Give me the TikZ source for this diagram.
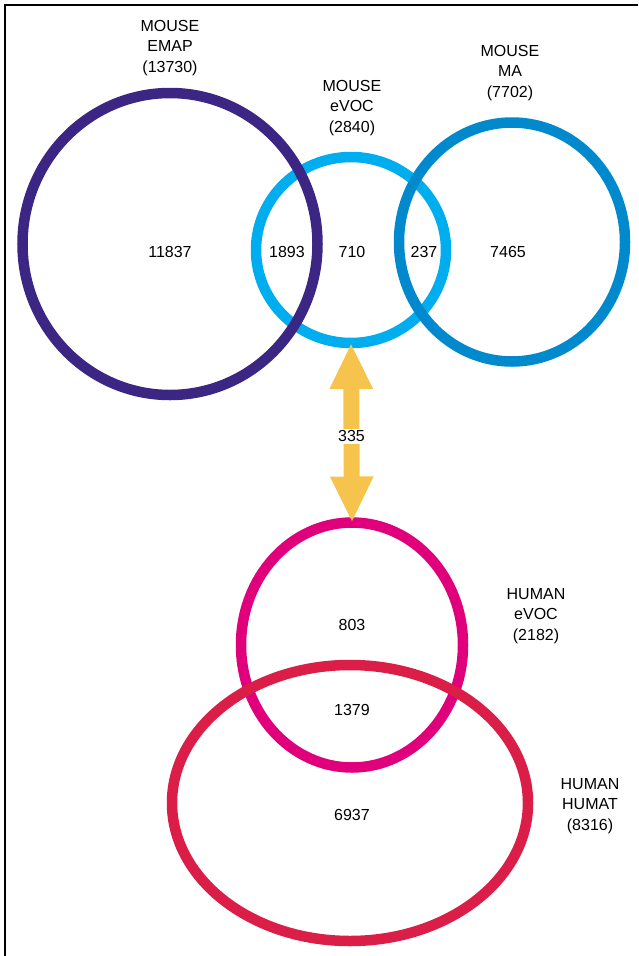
\documentclass[tikz,border=0pt]{standalone}
\usepackage{fontspec}
\setmainfont{Liberation Sans}
\usepackage{tikz}
\usetikzlibrary{positioning,shapes,arrows.meta}

\definecolor{emapcol}{RGB}{60,38,131}
\definecolor{mevoccol}{RGB}{0,174,239}
\definecolor{macol}{RGB}{0,137,204}
\definecolor{hevoccol}{RGB}{224,0,124}
\definecolor{humatcol}{RGB}{218,30,72}
\definecolor{arrowcol}{RGB}{246,196,76}

\begin{document}
\begin{tikzpicture}[
            x=1pt, y=-1pt,
            ring/.style={ellipse, line width=10.5pt, outer sep=0pt, inner sep=0pt},
            lbl/.style={align=center, font=\fontsize{16}{20.5}\selectfont},
            num/.style={font=\fontsize{16}{20.5}\selectfont, inner sep=1pt}
        ]
        \useasboundingbox (0,0) rectangle (639,956);

        %frame
        \draw[line width=1.3pt] (638,5) -- (5,5) -- (5,956);

        %mouse circles
        \node[ring, draw=mevoccol, minimum width=190pt, minimum height=186pt] (mevoc) at (351,250) {};
        \node[ring, draw=emapcol,  minimum width=295pt, minimum height=302pt] (emap)  at (170,244) {};
        \node[ring, draw=macol,    minimum width=226pt, minimum height=239pt] (ma)    at (512,242) {};

        %human circles
        \node[ring, draw=hevoccol, minimum width=222pt, minimum height=245pt] (hevoc) at (352,645) {};
        \node[ring, draw=humatcol, minimum width=356pt, minimum height=276pt] (humat) at (350,803) {};

        %set labels
        \node[lbl] (emaplbl)  at (170,48)  {MOUSE\\EMAP\\(13730)};
        \node[lbl] (mevoclbl) at (352,108) {MOUSE\\eVOC\\(2840)};
        \node[lbl] (malbl)    at (510,73)  {MOUSE\\MA\\(7702)};
        \node[lbl] (hevoclbl) at (536,616) {HUMAN\\eVOC\\(2182)};
        \node[lbl] (humatlbl) at (590,806) {HUMAN\\HUMAT\\(8316)};

        %counts
        \node[num] (n11837) at (170,252) {11837};
        \node[num] (n1893)  at (287,252) {1893};
        \node[num] (n710)   at (352,252) {710};
        \node[num] (n237)   at (424,252) {237};
        \node[num] (n7465)  at (508,252) {7465};
        \node[num] (n803)   at (352,625) {803};
        \node[num] (n1379)  at (352,710) {1379};
        \node[num] (n6937)  at (352,815) {6937};

        %mapping arrow
        \draw[arrowcol, line width=16pt,
              {Triangle[length=46pt,width=40pt]}-{Triangle[length=46pt,width=40pt]}]
            (mevoc.south) -- (hevoc.north)
            node[pos=0.52, anchor=center, fill=white, text=black, num, inner sep=2pt] (n335) {335};

        \end{tikzpicture}
\end{document}
